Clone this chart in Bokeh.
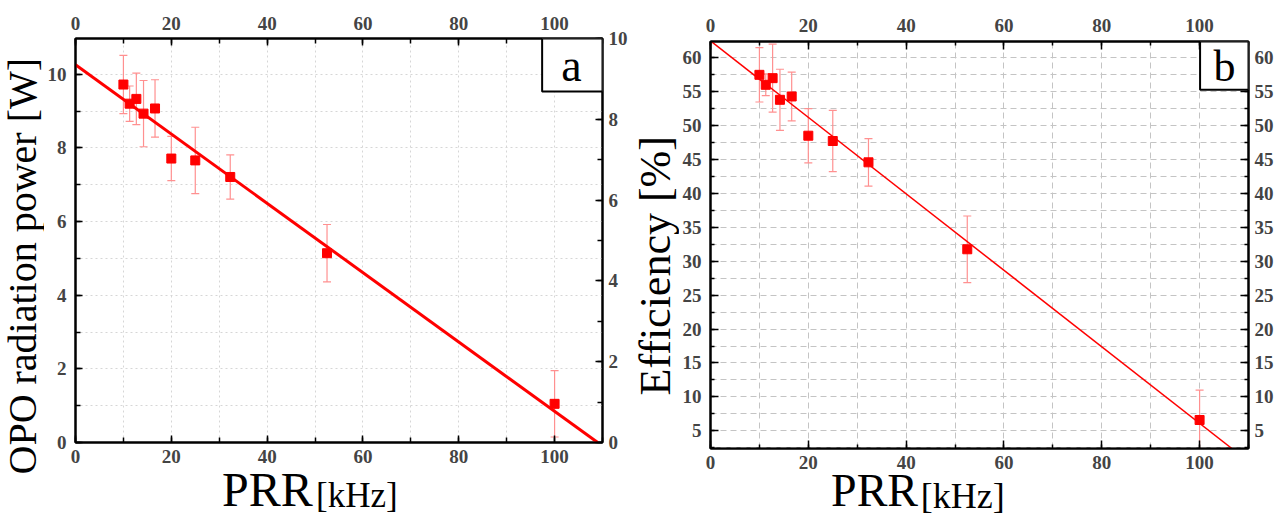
import math
from bokeh.plotting import figure
from bokeh.models import (Range1d, LinearAxis, SingleIntervalTicker, BoxAnnotation,
                          Label, ColumnDataSource)
from bokeh.layouts import row, column
from bokeh.embed import file_html
from bokeh.resources import INLINE
from bokeh.core.properties import value

# ---------------- data ----------------
prr_khz = [10, 11.3, 12.7, 14.2, 16.6, 20, 25, 32.3, 52.5, 100]

opo_power_w = [9.72, 9.20, 9.33, 8.93, 9.07, 7.71, 7.66, 7.21, 5.14, 1.05]
opo_power_err = [0.79, 0.48, 0.70, 0.90, 0.78, 0.60, 0.90, 0.60, 0.78, 0.90]

efficiency_pct = [57.45, 55.98, 56.96, 53.77, 54.26, 48.48, 47.70, 44.56, 31.75, 6.6]
efficiency_err = [4.0, 1.6, 5.0, 4.5, 3.6, 4.0, 4.5, 3.5, 4.9, 4.4]

fit_a_x = [0, 109.0]
fit_a_y = [10.26, 0.0]
fit_b_x = [0, 106.6]
fit_b_y = [62.45, 2.4]

x_range_max = 110
a_left_range = (0, 10.97)
a_right_range = (0, 10)
b_range = (2.4, 62.36)

SERIF = "Liberation Serif"
RED = "#ff0000"
ERR = "#ff9090"
H = 515


def style_axis(ax, interval, standoff, major_in, minor_in, size="19px"):
    ax.ticker = SingleIntervalTicker(interval=interval, num_minor_ticks=2)
    ax.axis_line_width = 2
    ax.axis_line_color = "black"
    ax.major_tick_in = major_in
    ax.major_tick_out = 0
    ax.minor_tick_in = minor_in
    ax.minor_tick_out = 0
    ax.major_tick_line_width = 1.5
    ax.minor_tick_line_width = 1.5
    ax.major_label_text_font = SERIF
    ax.major_label_text_font_style = "bold"
    ax.major_label_text_font_size = size
    ax.major_label_standoff = standoff
    ax.axis_label = None


def panel(width, height, borders, yr, y_interval, grid_dash, grid_color, major_in,
          minor_in, standoffs, right_range=None):
    p = figure(width=width, height=height, output_backend="svg", toolbar_location=None,
               x_range=Range1d(0, x_range_max), y_range=Range1d(*yr),
               min_border_left=borders[0], min_border_right=borders[1],
               min_border_top=borders[2], min_border_bottom=borders[3])
    p.outline_line_color = "black"
    p.outline_line_width = 2
    p.background_fill_color = "white"
    p.border_fill_color = "white"
    s_left, s_right, s_top, s_bottom = standoffs
    style_axis(p.xaxis[0], 20, s_bottom, major_in, minor_in)
    style_axis(p.yaxis[0], y_interval, s_left, major_in, minor_in)
    top = LinearAxis()
    style_axis(top, 20, s_top, major_in, minor_in)
    p.add_layout(top, "above")
    if right_range is not None:
        p.extra_y_ranges = {"right": Range1d(*right_range)}
        right = LinearAxis(y_range_name="right")
        style_axis(right, 2, s_right, major_in, minor_in)
    else:
        right = LinearAxis()
        style_axis(right, y_interval, s_right, major_in, minor_in)
    p.add_layout(right, "right")

    p.xgrid.ticker = SingleIntervalTicker(interval=10)
    p.ygrid.ticker = SingleIntervalTicker(interval=1 if right_range is not None else 2.5)
    for g in (p.xgrid, p.ygrid):
        g.grid_line_color = grid_color
        g.grid_line_dash = grid_dash
        g.grid_line_width = 1
    return p


def text_fig(width, height, xr, border_l=0, border_r=0, overlap=0):
    kw = {}
    if overlap:
        kw["styles"] = {"margin-top": f"-{overlap}px"}
    f = figure(width=width, height=height, output_backend="svg", toolbar_location=None,
               x_range=Range1d(*xr), y_range=Range1d(0, height),
               x_axis_type=None, y_axis_type=None,
               min_border_left=border_l, min_border_right=border_r,
               min_border_top=0, min_border_bottom=0, **kw)
    f.outline_line_color = None
    if overlap:
        f.background_fill_color = None
        f.border_fill_color = None
    else:
        f.background_fill_color = "white"
        f.border_fill_color = "white"
    return f


def add_text(f, x, y, txt, size, angle=0.0, align="left", baseline="middle"):
    f.text(x=[x], y=[y], text=[txt], angle=angle, text_font=value(SERIF),
           text_font_size=size, text_align=align, text_baseline=baseline,
           text_color="black")


# ---------------- panel a ----------------
pa = panel(586, 472, (29, 25, 38, 30), a_left_range, 2, "2 3", "#d6d6d6", 7, 5,
           standoffs=(9, 6, 9, 7), right_range=a_right_range)

src_a = ColumnDataSource(dict(
    x=prr_khz, y=opo_power_w,
    lo=[v - e for v, e in zip(opo_power_w, opo_power_err)],
    hi=[v + e for v, e in zip(opo_power_w, opo_power_err)]))
pa.segment(x0="x", y0="lo", x1="x", y1="hi", source=src_a, line_color=ERR, line_width=1.2)
pa.scatter(x="x", y="lo", source=src_a, marker="dash", size=8, line_color=ERR, line_width=1.2)
pa.scatter(x="x", y="hi", source=src_a, marker="dash", size=8, line_color=ERR, line_width=1.2)
pa.line(fit_a_x, fit_a_y, line_color=RED, line_width=3)
pa.scatter(x="x", y="y", source=src_a, marker="square", size=9, fill_color=RED,
           line_color=RED)

pa.add_layout(BoxAnnotation(left=97.4, right=110, bottom=9.53, top=10.97,
                            fill_color="white", fill_alpha=1, line_color="black",
                            line_alpha=1, line_width=2))
pa.add_layout(Label(x=103.5, y=10.25, text="a", text_font=SERIF, text_font_size="46px",
                    text_align="center", text_baseline="middle", text_color="black"))

ya = text_fig(44, H, (0, 44))
add_text(ya, 22, H - 474, "OPO radiation power [W]", "40px", angle=math.pi / 2)
# title strip: 73 px tall, pulled up 30 px so it starts at the frame bottom (y=442)
xa = text_fig(586, 73, (0, x_range_max), 29, 25, overlap=30)
add_text(xa, 30.6, 515 - 488.5, "PRR", "48px")
add_text(xa, 50.2, 515 - 494.8, "[kHz]", "35px")

# ---------------- panel b ----------------
pb = panel(609, 477, (29, 40, 41, 29), b_range, 5, "6 4", "#c4c4c4", 8, 4,
           standoffs=(9, 6, 10, 7))

src_b = ColumnDataSource(dict(
    x=prr_khz, y=efficiency_pct,
    lo=[v - e for v, e in zip(efficiency_pct, efficiency_err)],
    hi=[v + e for v, e in zip(efficiency_pct, efficiency_err)]))
pb.segment(x0="x", y0="lo", x1="x", y1="hi", source=src_b, line_color=ERR, line_width=1.2)
pb.scatter(x="x", y="lo", source=src_b, marker="dash", size=8, line_color=ERR, line_width=1.2)
pb.scatter(x="x", y="hi", source=src_b, marker="dash", size=8, line_color=ERR, line_width=1.2)
pb.line(fit_b_x, fit_b_y, line_color=RED, line_width=1.5)
pb.scatter(x="x", y="y", source=src_b, marker="square", size=9, fill_color=RED,
           line_color=RED)

pb.add_layout(BoxAnnotation(left=100.1, right=110, bottom=55.25, top=62.36,
                            fill_color="white", fill_alpha=1, line_color="black",
                            line_alpha=1, line_width=2))
pb.add_layout(Label(x=105.1, y=58.7, text="b", text_font=SERIF, text_font_size="44px",
                    text_align="center", text_baseline="middle", text_color="black"))

yb = text_fig(49, H, (0, 49))
add_text(yb, 24.5, H - 395, "Efficiency [%]", "44px", angle=math.pi / 2)
xb = text_fig(609, 67, (0, x_range_max), 29, 40, overlap=29)
add_text(xb, 24.65, 515 - 489.5, "PRR", "46px")
add_text(xb, 43.0, 515 - 495.0, "[kHz]", "36px")

layout = row(ya, column(pa, xa), yb, column(pb, xb))
open("out.html", "w").write(file_html(layout, INLINE))
